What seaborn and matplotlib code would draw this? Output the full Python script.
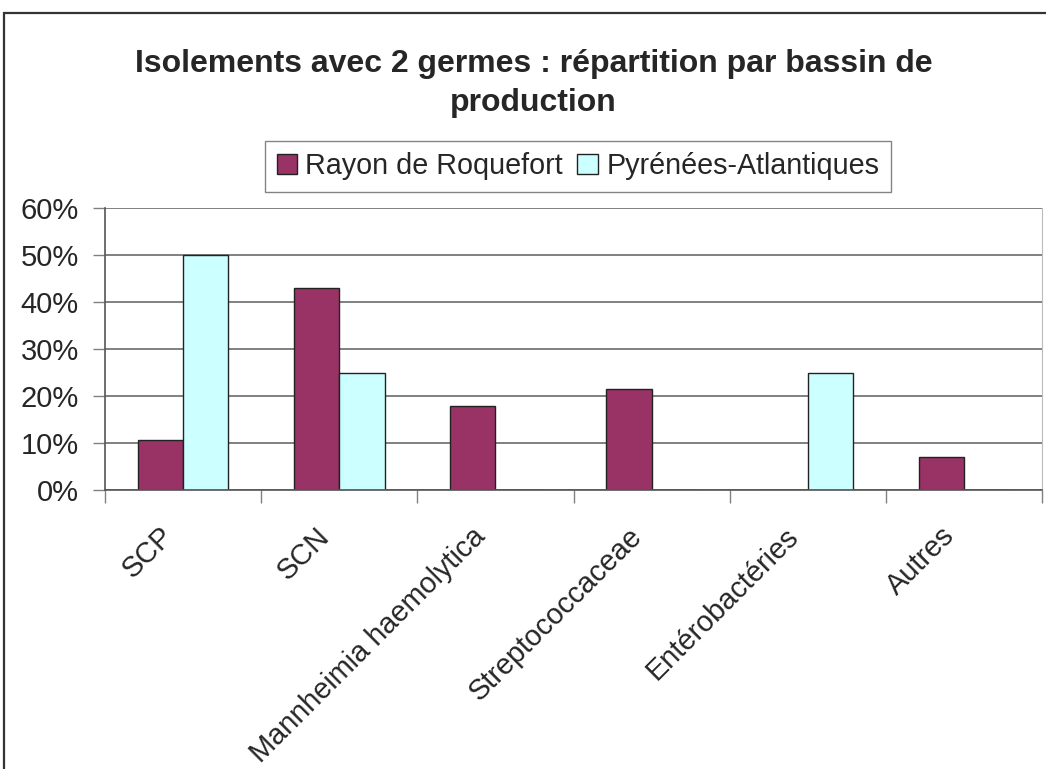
import numpy as np
import pandas as pd
import seaborn as sns
import matplotlib.pyplot as plt
import matplotlib.transforms as mtransforms
from matplotlib.patches import Rectangle
from matplotlib.ticker import FuncFormatter

# data (shares of isolates)
categories = ['SCP', 'SCN', 'Mannheimia haemolytica', 'Streptococcaceae',
              'Entérobactéries', 'Autres']
rayon = [0.107, 0.429, 0.179, 0.214, 0.0, 0.071]
pyrenees = [0.50, 0.25, 0.0, 0.0, 0.25, 0.0]
series = ['Rayon de Roquefort', 'Pyrénées-Atlantiques']

df = pd.DataFrame({
    'germe': categories * 2,
    'bassin': [series[0]] * len(categories) + [series[1]] * len(categories),
    'part': rayon + pyrenees,
})

sns.set_style('white')
plt.rcParams['font.family'] = ['Liberation Sans', 'DejaVu Sans']

fig = plt.figure(figsize=(10.46, 7.69), dpi=100)
ax = fig.add_axes([0.1004, 0.3628, 0.8958, 0.3667])

# outer chart frame, cut by the picture edges
fig.patches.append(Rectangle((4 / 1046, -0.1), 1.2, 1.1 - 13 / 769,
                             transform=fig.transFigure, fill=False,
                             edgecolor='#333333', linewidth=1.6, zorder=0))

sns.barplot(data=df, x='germe', y='part', hue='bassin', order=categories,
            hue_order=series, palette=['#993366', '#CCFFFF'], width=0.58,
            edgecolor='#222222', linewidth=1.0, saturation=1, ax=ax,
            legend=True)

ax.set_ylim(0, 0.6)
ax.set_xlim(-0.5, 5.5)
ax.set_yticks(np.arange(0, 0.61, 0.1))
ax.yaxis.set_major_formatter(FuncFormatter(lambda v, p: '{:.0f}%'.format(v * 100)))
ax.yaxis.grid(True, color='#808080', linewidth=1.4)
ax.set_axisbelow(True)

# tick marks sit between categories, labels at centres
ax.set_xticks(np.arange(-0.5, 6, 1))
ax.set_xticklabels([''] * 7)
ax.set_xticks(range(len(categories)), minor=True)
ax.set_xticklabels(categories, minor=True, rotation=45, ha='right',
                   rotation_mode='anchor', fontsize=20.8)
ax.tick_params(axis='x', which='major', length=9, width=1, color='#808080',
               direction='out', bottom=True)
ax.tick_params(axis='x', which='minor', length=0, pad=23, bottom=True)
ax.tick_params(axis='y', length=9, width=1, color='#808080', direction='out',
               left=True, labelsize=21, pad=10)
# nudge rotated labels left, like the original
shift = mtransforms.ScaledTranslation(-0.24, 0, fig.dpi_scale_trans)
for lab in ax.get_xticklabels(minor=True):
    lab.set_transform(lab.get_transform() + shift)
ax.set_xlabel('')
ax.set_ylabel('')

for side in ['left', 'bottom']:
    ax.spines[side].set_color('#555555')
    ax.spines[side].set_linewidth(1.2)
ax.spines['right'].set_color('#BBBBBB')
ax.spines['top'].set_visible(False)

ax.legend_.remove()
fig.legend(*ax.get_legend_handles_labels(), loc='center',
           bbox_to_anchor=(0.5525, 0.784), ncol=2, fontsize=20.7, frameon=True,
           fancybox=False, edgecolor='#666666', handlelength=0.7,
           handleheight=0.7, handletextpad=0.3, columnspacing=0.5,
           borderpad=0.4, borderaxespad=0)

fig.text(0.510, 0.891, 'Isolements avec 2 germes : répartition par bassin de\nproduction',
         ha='center', va='center', fontsize=23, fontweight='bold',
         linespacing=1.4)

fig.savefig('out.png', dpi=100)
plt.close(fig)
